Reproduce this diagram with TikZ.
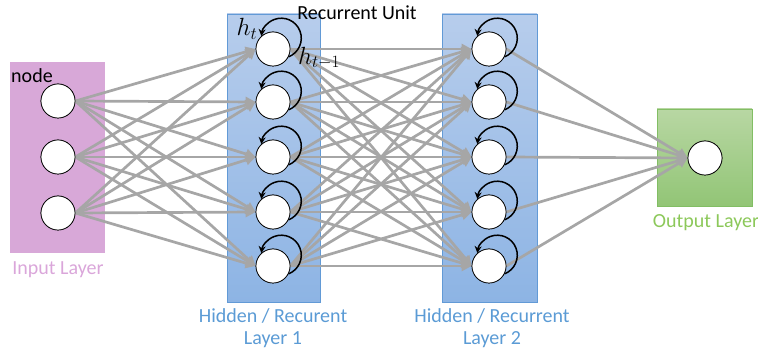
\documentclass[tikz,border=0pt]{standalone}
\usepackage{fontspec}
\setmainfont{Carlito}
\usetikzlibrary{arrows.meta}
\definecolor{inpfill}{RGB}{216,168,216}
\definecolor{inptext}{RGB}{218,166,218}
\definecolor{hidtop}{RGB}{183,205,236}
\definecolor{hidbot}{RGB}{141,180,228}
\definecolor{hidborder}{RGB}{98,154,214}
\definecolor{hidtext}{RGB}{91,155,213}
\definecolor{outtop}{RGB}{184,215,163}
\definecolor{outbot}{RGB}{146,197,118}
\definecolor{outborder}{RGB}{130,190,100}
\definecolor{outtext}{RGB}{140,200,90}
\definecolor{edgegray}{RGB}{166,166,166}
\tikzset{
  unit/.style={circle,draw=black,fill=white,minimum size=34pt,inner sep=0pt,line width=0.7pt},
  conn/.style={draw=edgegray,line width=2.7pt,-{Triangle[length=10pt,width=10pt]}},
  loopy/.style={draw=black,line width=1.5pt,-{Stealth[length=7pt,width=7pt]}},
  lbl/.style={font=\fontsize{20}{22}\selectfont,align=center,inner sep=0pt},
  mlbl/.style={font=\fontsize{24}{26}\selectfont,inner sep=0pt},
}
\begin{document}
\begin{tikzpicture}[x=1pt,y=1pt]
\useasboundingbox (0,0) rectangle (758,356);
% layer boxes
\node[draw=none,fill=inpfill,minimum width=95pt,minimum height=191pt,inner sep=0pt] (inbox) at (57.5,198.5) {};
\node[draw=hidborder,line width=0.8pt,top color=hidtop,bottom color=hidbot,minimum width=93pt,minimum height=288pt,inner sep=0pt] (h1box) at (273.5,198) {};
\node[draw=hidborder,line width=0.8pt,top color=hidtop,bottom color=hidbot,minimum width=95pt,minimum height=288pt,inner sep=0pt] (h2box) at (489.5,198) {};
\node[draw=outborder,line width=0.8pt,top color=outtop,bottom color=outbot,minimum width=95pt,minimum height=97pt,inner sep=0pt] (outbox) at (704.5,198.5) {};
% labels
\node[lbl,text=inptext] (inlbl) at (58,86) {Input Layer};
\node[lbl,text=hidtext] (h1lbl) at (273,28) {Hidden / Recurent\\Layer 1};
\node[lbl,text=hidtext] (h2lbl) at (492,28) {Hidden / Recurrent\\Layer 2};
\node[lbl,text=outtext] (outlbl) at (706,133) {Output Layer};
\node[lbl] (rulbl) at (357,343) {Recurrent Unit};
\node[lbl] (nodelbl) at (32,280) {node};
% nodes
\node[unit] (i1) at (58,255) {};
\node[unit] (i2) at (58,199) {};
\node[unit] (i3) at (58,143) {};
\foreach \k/\y in {1/307,2/254,3/199,4/144,5/90} {
  \node[unit] (a\k) at (273,\y) {};
  \node[unit] (b\k) at (489,\y) {};
}
\node[unit] (o1) at (705,198) {};
% connections
\foreach \s in {1,2,3} \foreach \t in {1,...,5} \draw[conn] (i\s.east) -- (a\t.west);
\foreach \s in {1,...,5} \foreach \t in {1,...,5} \draw[conn] (a\s.east) -- (b\t.west);
\foreach \s in {1,...,5} \draw[conn] (b\s.east) -- (o1.west);
% redraw nodes on top
\foreach \n in {i1,i2,i3,a1,a2,a3,a4,a5,b1,b2,b3,b4,b5,o1} {
  \node[unit] at (\n) {};
}
% self loops
\foreach \n in {a1,a2,a3,a4,a5,b1,b2,b3,b4,b5} {
  \draw[loopy] (\n.-27) arc[start angle=-69, end angle=174, radius=20];
}
% math labels
\node[mlbl] (ht) at (247,327) {$h_t$};
\node[mlbl] (htm) at (319,298) {$h_{t-1}$};
\end{tikzpicture}
\end{document}
